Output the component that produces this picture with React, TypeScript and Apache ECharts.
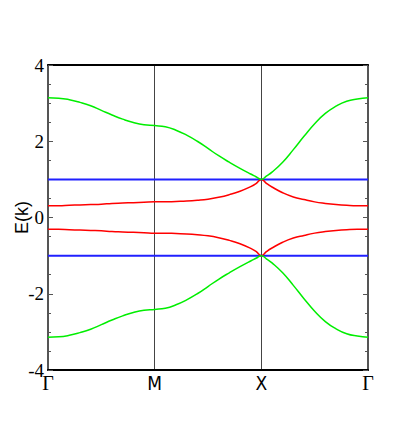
import React, { useEffect, useRef } from "react";
import * as echarts from "echarts";

// k-path coordinate (Γ=0, M=1, X=2, Γ=3)
const kPath = [
  0, 0.1, 0.2, 0.3, 0.4, 0.5, 0.6, 0.7, 0.8, 0.9, 1.0,
  1.1, 1.2, 1.3, 1.4, 1.5, 1.6, 1.7, 1.8, 1.9, 1.95, 2.0,
  2.05, 2.1, 2.2, 2.3, 2.4, 2.5, 2.6, 2.7, 2.8, 2.9, 3.0,
];
const kLabels = ["Γ", "M", "X", "Γ"];

const greenUpper = [
  3.14, 3.13, 3.09, 3.02, 2.93, 2.81, 2.69, 2.58, 2.49, 2.43, 2.41,
  2.38, 2.29, 2.16, 2.0, 1.81, 1.62, 1.45, 1.29, 1.14, 1.07, 1.0,
  1.09, 1.19, 1.45, 1.78, 2.13, 2.46, 2.73, 2.92, 3.05, 3.11, 3.14,
];
const redUpper = [
  0.31, 0.31, 0.32, 0.33, 0.34, 0.35, 0.37, 0.38, 0.39, 0.4, 0.41,
  0.41, 0.42, 0.43, 0.45, 0.48, 0.53, 0.6, 0.69, 0.81, 0.89, 1.0,
  0.89, 0.8, 0.65, 0.54, 0.47, 0.41, 0.37, 0.34, 0.32, 0.31, 0.31,
];
const redLower = [
  -0.31, -0.31, -0.32, -0.33, -0.34, -0.35, -0.37, -0.38, -0.39, -0.4, -0.41,
  -0.41, -0.42, -0.43, -0.45, -0.48, -0.53, -0.6, -0.69, -0.81, -0.89, -1.0,
  -0.89, -0.8, -0.65, -0.54, -0.47, -0.41, -0.37, -0.34, -0.32, -0.31, -0.31,
];
const greenLower = [
  -3.14, -3.13, -3.09, -3.02, -2.93, -2.81, -2.69, -2.58, -2.49, -2.43, -2.41,
  -2.38, -2.29, -2.16, -2.0, -1.81, -1.62, -1.45, -1.29, -1.14, -1.07, -1.0,
  -1.09, -1.19, -1.45, -1.78, -2.13, -2.46, -2.73, -2.92, -3.05, -3.11, -3.14,
];
const flatBands = [1, -1];
const yTicks = { min: -4, max: 4, interval: 2 };

const pair = (vals: number[]) => vals.map((v, i) => [kPath[i], v]);

export default function App() {
  const ref = useRef<HTMLDivElement>(null);
  useEffect(() => {
    if (!ref.current) return;
    const chart = echarts.init(ref.current, null, { renderer: "svg" });
    const serif = "Liberation Serif, serif";
    const lineSeries = (name: string, data: number[][], color: string, width: number) => ({
      name,
      type: "line",
      data,
      showSymbol: false,
      smooth: 0.5,
      lineStyle: { color, width },
      silent: true,
    });
    const yCommon = {
      type: "value",
      ...yTicks,
      axisLine: { show: true, onZero: false, lineStyle: { color: "#555", width: 2 } },
      axisTick: { show: true, inside: true, length: 5, lineStyle: { color: "#555", width: 1 } },
      minorTick: { show: true, splitNumber: 4, length: 3, lineStyle: { color: "#555", width: 1 } },
      splitLine: { show: false },
    };
    chart.setOption({
      animation: false,
      grid: { left: 48, right: 46, top: 65, bottom: 66, outerBoundsMode: "none", containLabel: false },
      xAxis: [
        {
          type: "value",
          min: 0,
          max: 3,
          interval: 1,
          position: "bottom",
          axisLine: { show: true, onZero: false, lineStyle: { color: "#000", width: 2 } },
          axisTick: { show: false },
          splitLine: { show: true, lineStyle: { color: "#444", width: 1 } },
          axisLabel: {
            margin: 3,
            formatter: (v: number) => {
              const l = kLabels[Math.round(v)] ?? "";
              return l === "Γ" ? `{g|${l}}` : `{s|${l}}`;
            },
            rich: {
              g: { fontFamily: serif, fontSize: 20, color: "#000" },
              s: { fontFamily: "Liberation Sans Narrow, DejaVu Sans Condensed, Liberation Sans", fontSize: 19, color: "#000" },
            },
          },
        },
        {
          type: "value",
          min: 0,
          max: 3,
          position: "top",
          axisLine: { show: true, onZero: false, lineStyle: { color: "#000", width: 2 } },
          axisTick: { show: false },
          axisLabel: { show: false },
          splitLine: { show: false },
        },
      ],
      yAxis: [
        {
          ...yCommon,
          position: "left",
          name: "E(k)",
          nameLocation: "middle",
          nameRotate: 90,
          nameGap: 17,
          nameMoveOverlap: false,
          nameTextStyle: { fontFamily: "Liberation Sans", fontSize: 18, color: "#000" },
          axisLabel: { fontFamily: serif, fontSize: 19, color: "#000", margin: 4 },
        },
        {
          ...yCommon,
          position: "right",
          axisLabel: { show: false },
        },
      ],
      series: [
        ...flatBands.map((b, i) =>
          lineSeries("flat" + i, [[0, b], [3, b]], "#2020ff", 2)
        ),
        lineSeries("redUpper", pair(redUpper), "#ff0000", 1.5),
        lineSeries("redLower", pair(redLower), "#ff0000", 1.5),
        lineSeries("greenUpper", pair(greenUpper), "#00ee00", 1.5),
        lineSeries("greenLower", pair(greenLower), "#00ee00", 1.5),
      ],
    });
    return () => chart.dispose();
  }, []);
  return (
    <div
      ref={ref}
      style={{ position: "fixed", left: 0, top: 0, width: 414, height: 436, background: "#fff" }}
    />
  );
}
